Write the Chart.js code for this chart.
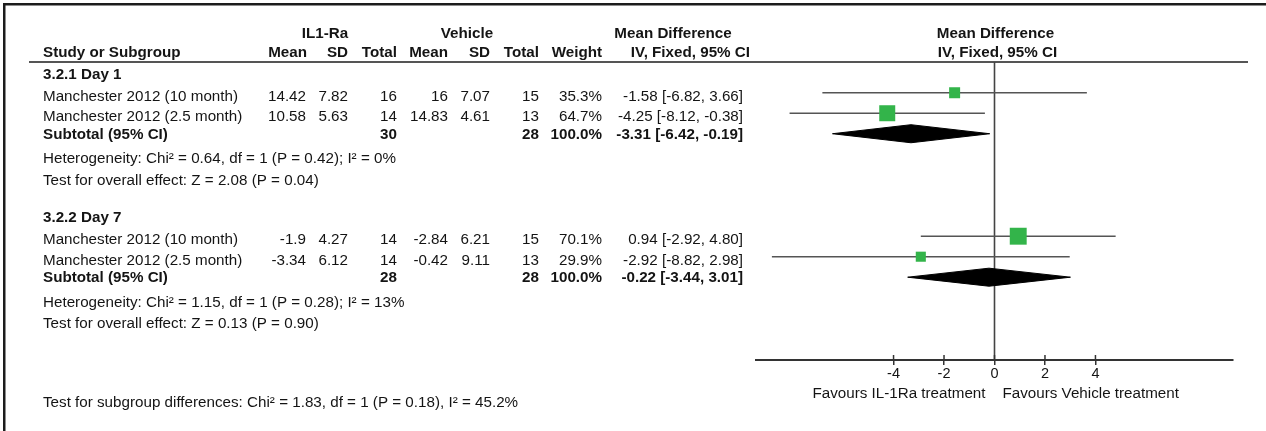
<!DOCTYPE html>
<html>
<head>
<meta charset="utf-8">
<title>Mean Difference – IL1-Ra vs Vehicle</title>
<script src="https://cdn.jsdelivr.net/npm/chart.js@4.4.1/dist/chart.umd.min.js"></script>
<style>
  html, body { margin: 0; padding: 0; background: #ffffff; }
  #wrap { position: relative; width: 1266px; height: 431px; }
</style>
</head>
<body>
<div id="wrap"><canvas id="forest" width="1266" height="431"></canvas></div>
<script>
// ---- data ----
const groupLabels = ['3.2.1 Day 1', '3.2.2 Day 7'];
const studyNames = [
  'Manchester 2012 (10 month)', 'Manchester 2012 (2.5 month)',
  'Manchester 2012 (10 month)', 'Manchester 2012 (2.5 month)'
];
const studyGroup = [0, 0, 1, 1];
const il1Mean = [14.42, 10.58, -1.9, -3.34];
const il1SD = [7.82, 5.63, 4.27, 6.12];
const il1N = [16, 14, 14, 14];
const vehMean = [16, 14.83, -2.84, -0.42];
const vehSD = [7.07, 4.61, 6.21, 9.11];
const vehN = [15, 13, 15, 13];
const studyWeight = [35.3, 64.7, 70.1, 29.9];
const studyMD = [-1.58, -4.25, 0.94, -2.92];
const studyLow = [-6.82, -8.12, -2.92, -8.82];
const studyHigh = [3.66, -0.38, 4.80, 2.98];

const subIl1N = [30, 28];
const subVehN = [28, 28];
const subWeight = [100.0, 100.0];
const subMD = [-3.31, -0.22];
const subLow = [-6.42, -3.44];
const subHigh = [-0.19, 3.01];

const hetChi2 = [0.64, 1.15];
const hetDf = [1, 1];
const hetP = [0.42, 0.28];
const hetI2 = [0, 13];
const overallZ = [2.08, 0.13];
const overallP = [0.04, 0.90];

const diffChi2 = 1.83;
const diffDf = 1;
const diffP = 0.18;
const diffI2 = 45.2;

const xTickValues = [-4, -2, 0, 2, 4];
const favourLeft = 'Favours IL-1Ra treatment';
const favourRight = 'Favours Vehicle treatment';

// ---- layout & style ----
const FAMILY = '"Liberation Sans", Arial, Helvetica, sans-serif';
const FONT_PX = 14;
const STRETCH = 1.085;          // text is set slightly wide
const TEXT = '#141414';
const GREEN = '#33b44a';
const LINE_GREY = '#555555';
const ROWS_PER_GROUP = 7;       // header, 2 studies, subtotal, 2 notes, blank
const Y_MAX = 14.54;            // rows visible between header rule and axis
const DIAMOND_HALF = 0.44;      // half height of a subtotal diamond, in rows

const studyRow = i => ROWS_PER_GROUP * studyGroup[i] + 1.5 + studyNames.slice(0, i).filter((_, k) => studyGroup[k] === studyGroup[i]).length;
const subtotalRow = g => ROWS_PER_GROUP * g + 3.5;
const squareSide = w => 5 + 0.17 * w;

const fmt2 = v => v.toFixed(2);
const ciText = (m, lo, hi) => `${fmt2(m)} [${fmt2(lo)}, ${fmt2(hi)}]`;

// ---- datasets ----
const datasets = [];

// study squares (drawn on top)
datasets.push({
  label: 'Studies',
  type: 'scatter',
  order: 0,
  data: studyMD.map((m, i) => ({ x: m, y: studyRow(i) })),
  pointStyle: 'rect',
  pointRadius: studyWeight.map(w => squareSide(w) / Math.SQRT2),
  pointBackgroundColor: GREEN,
  pointBorderWidth: 0,
  showLine: false
});

// confidence interval whiskers
studyMD.forEach((m, i) => {
  datasets.push({
    label: 'CI ' + i,
    type: 'scatter',
    order: 2,
    data: [{ x: studyLow[i], y: studyRow(i) }, { x: studyHigh[i], y: studyRow(i) }],
    showLine: true,
    borderColor: LINE_GREY,
    borderWidth: 1.5,
    pointRadius: 0
  });
});

// subtotal diamonds: upper edge, then lower edge filled back to it
subMD.forEach((m, g) => {
  const r = subtotalRow(g);
  const upperIndex = datasets.length;
  datasets.push({
    label: 'Subtotal upper ' + g,
    type: 'scatter',
    order: 1,
    data: [{ x: subLow[g], y: r }, { x: m, y: r - DIAMOND_HALF }, { x: subHigh[g], y: r }],
    showLine: true,
    borderColor: '#000000',
    borderWidth: 1,
    pointRadius: 0,
    fill: false
  });
  datasets.push({
    label: 'Subtotal lower ' + g,
    type: 'scatter',
    order: 1,
    data: [{ x: subLow[g], y: r }, { x: m, y: r + DIAMOND_HALF }, { x: subHigh[g], y: r }],
    showLine: true,
    borderColor: '#000000',
    borderWidth: 1,
    backgroundColor: '#000000',
    pointRadius: 0,
    fill: upperIndex
  });
});

// line of no effect
datasets.push({
  label: 'No effect',
  type: 'scatter',
  order: 3,
  data: [{ x: 0, y: 0 }, { x: 0, y: Y_MAX }],
  showLine: true,
  borderColor: '#444444',
  borderWidth: 1.6,
  pointRadius: 0
});

// ---- table, frame and axis decorations ----
function put(ctx, text, x, y, align, bold) {
  ctx.save();
  ctx.font = (bold ? 'bold ' : '') + FONT_PX + 'px ' + FAMILY;
  ctx.fillStyle = TEXT;
  ctx.textAlign = align;
  ctx.textBaseline = 'middle';
  ctx.translate(x, y);
  ctx.scale(STRETCH, 1);
  ctx.fillText(text, 0, 0);
  ctx.restore();
}

const tablePlugin = {
  id: 'forestTable',
  beforeDatasetsDraw(chart) {
    const ctx = chart.ctx;
    ctx.save();
    // outer frame (top and left edges)
    ctx.fillStyle = '#1c1c1c';
    ctx.fillRect(3, 3, chart.width - 3, 2.5);
    ctx.fillRect(3, 3, 2.5, chart.height - 3);
    // header rule
    ctx.strokeStyle = LINE_GREY;
    ctx.lineWidth = 2;
    ctx.beginPath();
    ctx.moveTo(29, chart.chartArea.top);
    ctx.lineTo(1248, chart.chartArea.top);
    ctx.stroke();
    ctx.restore();
  },
  afterDraw(chart) {
    const ctx = chart.ctx;
    const xs = chart.scales.x;
    const ys = chart.scales.y;
    const Y = u => ys.getPixelForValue(u);

    // tick marks continue a little above the axis line
    ctx.save();
    ctx.strokeStyle = '#333333';
    ctx.lineWidth = 1.5;
    xs.ticks.forEach(t => {
      const px = xs.getPixelForValue(t.value);
      ctx.beginPath();
      ctx.moveTo(px, chart.chartArea.bottom - 5);
      ctx.lineTo(px, chart.chartArea.bottom);
      ctx.stroke();
    });
    ctx.restore();

    const zeroPx = xs.getPixelForValue(0);

    // column headings
    put(ctx, 'IL1-Ra', 325, Y(-1.37), 'center', true);
    put(ctx, 'Vehicle', 467, Y(-1.37), 'center', true);
    put(ctx, 'Mean Difference', 673, Y(-1.37), 'center', true);
    put(ctx, 'Mean Difference', zeroPx + 1, Y(-1.37), 'center', true);
    const h2 = Y(-0.44);
    put(ctx, 'Study or Subgroup', 43, h2, 'left', true);
    put(ctx, 'Mean', 307, h2, 'right', true);
    put(ctx, 'SD', 348, h2, 'right', true);
    put(ctx, 'Total', 397, h2, 'right', true);
    put(ctx, 'Mean', 448, h2, 'right', true);
    put(ctx, 'SD', 490, h2, 'right', true);
    put(ctx, 'Total', 539, h2, 'right', true);
    put(ctx, 'Weight', 602, h2, 'right', true);
    put(ctx, 'IV, Fixed, 95% CI', 750, h2, 'right', true);
    put(ctx, 'IV, Fixed, 95% CI', zeroPx + 3, h2, 'center', true);

    // study rows
    studyNames.forEach((name, i) => {
      const y = Y(studyRow(i) + 0.2);
      put(ctx, name, 43, y, 'left', false);
      put(ctx, String(il1Mean[i]), 306, y, 'right', false);
      put(ctx, String(il1SD[i]), 348, y, 'right', false);
      put(ctx, String(il1N[i]), 397, y, 'right', false);
      put(ctx, String(vehMean[i]), 448, y, 'right', false);
      put(ctx, String(vehSD[i]), 490, y, 'right', false);
      put(ctx, String(vehN[i]), 539, y, 'right', false);
      put(ctx, studyWeight[i].toFixed(1) + '%', 602, y, 'right', false);
      put(ctx, ciText(studyMD[i], studyLow[i], studyHigh[i]), 743, y, 'right', false);
    });

    // group headers, subtotals and notes
    groupLabels.forEach((label, g) => {
      const base = ROWS_PER_GROUP * g;
      put(ctx, label, 43, Y(base + 0.63), 'left', true);
      const ys2 = Y(subtotalRow(g) + 0.06);
      put(ctx, 'Subtotal (95% CI)', 43, ys2, 'left', true);
      put(ctx, String(subIl1N[g]), 397, ys2, 'right', true);
      put(ctx, String(subVehN[g]), 539, ys2, 'right', true);
      put(ctx, subWeight[g].toFixed(1) + '%', 602, ys2, 'right', true);
      put(ctx, ciText(subMD[g], subLow[g], subHigh[g]), 743, ys2, 'right', true);
      put(ctx, `Heterogeneity: Chi² = ${fmt2(hetChi2[g])}, df = ${hetDf[g]} (P = ${fmt2(hetP[g])}); I² = ${hetI2[g]}%`,
          43, Y(base + 4.75), 'left', false);
      put(ctx, `Test for overall effect: Z = ${fmt2(overallZ[g])} (P = ${fmt2(overallP[g])})`,
          43, Y(base + 5.8), 'left', false);
    });

    put(ctx, `Test for subgroup differences: Chi² = ${fmt2(diffChi2)}, df = ${diffDf} (P = ${fmt2(diffP)}), I² = ${diffI2}%`,
        43, Y(16.64), 'left', false);

    // favours labels under the axis
    put(ctx, favourLeft, zeroPx - 9, Y(16.2), 'right', false);
    put(ctx, favourRight, zeroPx + 8, Y(16.2), 'left', false);
  }
};

new Chart(document.getElementById('forest'), {
  type: 'scatter',
  data: { datasets },
  plugins: [tablePlugin],
  options: {
    responsive: false,
    animation: false,
    events: [],
    layout: { padding: { left: 756, right: 33, top: 62, bottom: 31 } },
    plugins: {
      legend: { display: false },
      tooltip: { enabled: false }
    },
    scales: {
      x: {
        type: 'linear',
        position: 'bottom',
        min: -9.45,
        max: 9.45,
        afterBuildTicks: s => { s.ticks = xTickValues.map(v => ({ value: v })); },
        afterFit: s => { s.height = 40; },
        border: { display: true, color: '#333333', width: 2 },
        grid: { drawOnChartArea: false, drawTicks: true, tickLength: 5, color: '#333333', lineWidth: 1.5 },
        ticks: {
          color: TEXT,
          font: { family: FAMILY, size: 14.5 },
          padding: 0,
          maxRotation: 0,
          autoSkip: false
        }
      },
      y: {
        type: 'linear',
        min: 0,
        max: Y_MAX,
        reverse: true,
        display: false
      }
    }
  }
});
</script>
</body>
</html>
